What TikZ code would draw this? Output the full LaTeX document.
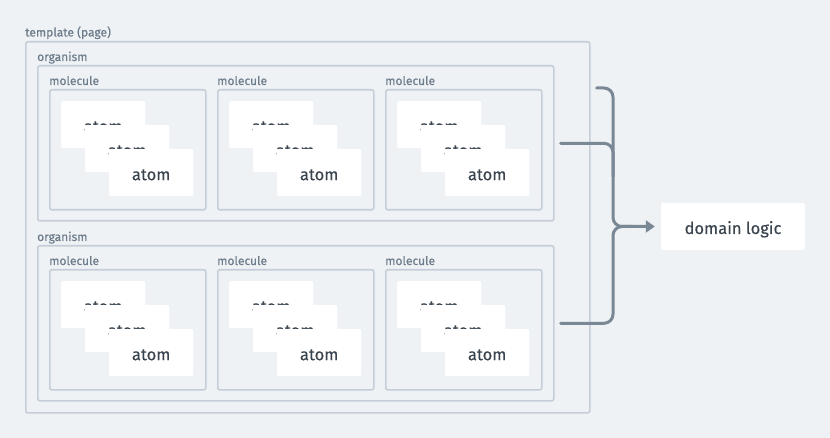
\documentclass[tikz,border=0pt]{standalone}
\usepackage{fontspec}
\setmainfont{Fira Sans}[FakeBold=0.3]
\newfontfamily\tagfont{Fira Sans}[FakeBold=0.6]
\usetikzlibrary{calc,positioning,arrows.meta}
\definecolor{bgGrey}{HTML}{EFF2F5}
\definecolor{frameGrey}{HTML}{C5CED8}
\definecolor{labelGrey}{HTML}{6E7D8C}
\definecolor{wireGrey}{HTML}{7A8795}
\definecolor{inkGrey}{HTML}{3A444F}
\tikzset{frame/.style={draw=frameGrey,line width=1.6pt,rounded corners=2pt,anchor=north west,inner sep=0pt},
atombox/.style={fill=white,rounded corners=2pt,minimum width=84pt,minimum height=47pt,anchor=north west,inner sep=0pt,text height=15pt,text depth=0pt,font=\fontsize{16.5}{19}\selectfont,text=inkGrey},
tag/.style={anchor=base west,inner sep=0pt,font=\tagfont\fontsize{12}{14}\selectfont,text=labelGrey},
wire/.style={draw=wireGrey,line width=3pt,rounded corners=9pt,line cap=round}}
\begin{document}
\begin{tikzpicture}[x=1pt,y=-1pt]

% Canvas
\fill[bgGrey] (0,0) rectangle (830,438);
\useasboundingbox (0,0) rectangle (830,438);

% Page
\node[frame,minimum width=564pt,minimum height=371pt] (page) at (25,41) {};
\node[tag] (pageLabel) at ($(page.north west)+(0,-4.5)$) {template (page)};

% Organisms, molecules, atoms
\foreach \o/\y in {1/65,2/245} {
  \node[frame,minimum width=516pt,minimum height=155pt] (org\o) at (37,\y) {};
  \node[tag] (orgLabel\o) at ($(org\o.north west)+(0,-4)$) {organism};
  \foreach \m/\x in {1/49,2/217,3/385} {
    \node[frame,minimum width=156pt,minimum height=120pt] (mol\o\m) at (\x,\y+24) {};
    \node[tag] (molLabel\o\m) at ($(mol\o\m.north west)+(0,-4)$) {molecule};
    \foreach \a in {0,1,2}
      \node[atombox] (atom\o\m\a) at ($(mol\o\m.north west)+(12+24*\a,12+24*\a)$) {atom};
  }
}

% Domain logic
\node[atombox,anchor=center,minimum width=144pt] (logic) at (733,226.5) {domain logic};

% Brace
\coordinate (join) at (613,226.5);
\coordinate (topEnd) at ($(page.north east)+(6,47)$);
\coordinate (midDrop) at ($(join)+(0,-50)$);
\draw[wire,-{Triangle[length=9pt,width=12pt]},shorten >=6pt] (topEnd) -| (join) -- (logic.west);
\draw[wire] ($(org2.east)+(6,0)$) -| (join) -- +(20,0);
\draw[wire] ($(org1.east)+(6,0)$) -| (midDrop);

\end{tikzpicture}
\end{document}
